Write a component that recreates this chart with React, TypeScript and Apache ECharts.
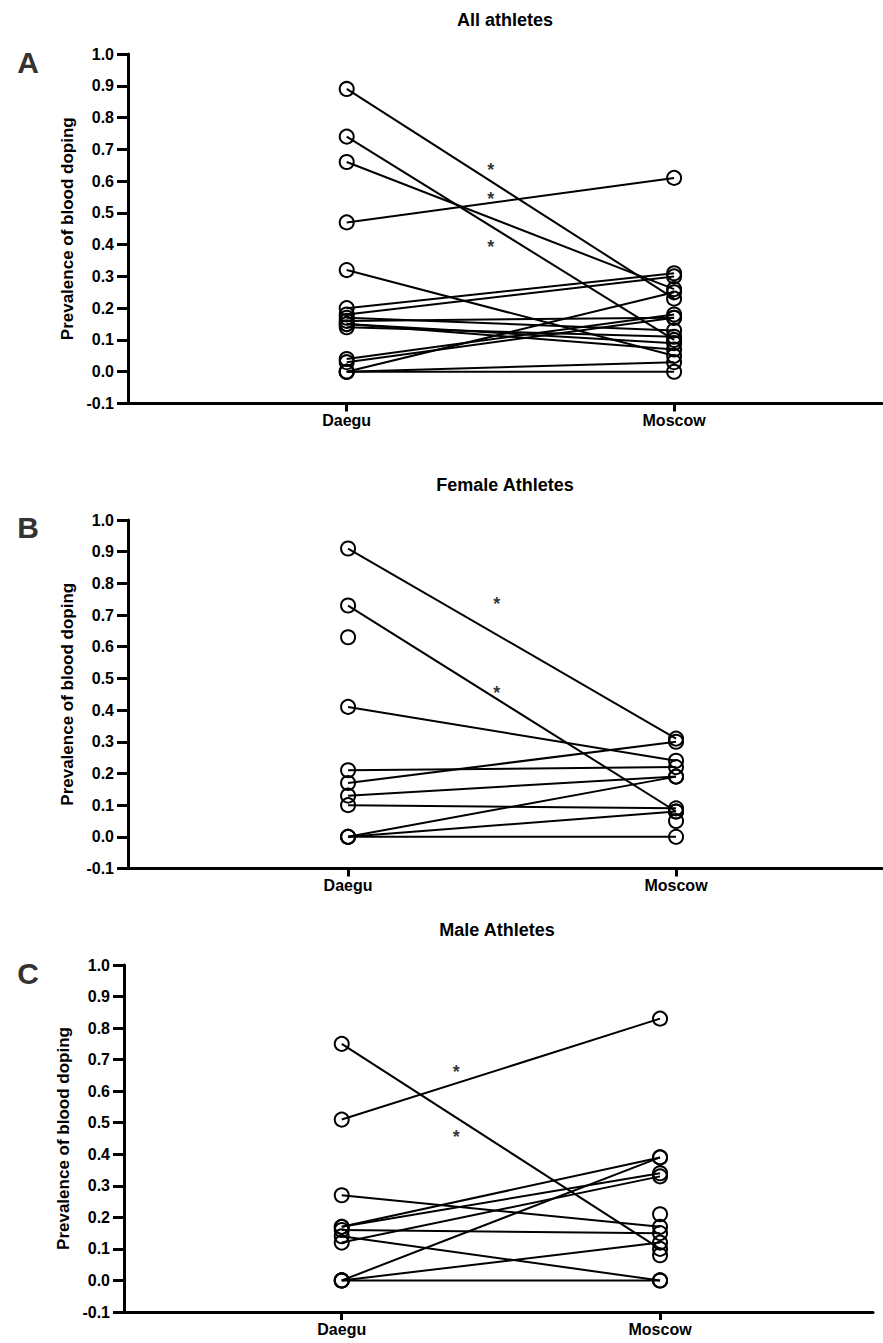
import React, { useEffect, useRef } from "react";
import * as echarts from "echarts";

const categories = ["Daegu", "Moscow"];

const allDaegu = [0.89, 0.74, 0.66, 0.47, 0.32, 0.2, 0.18, 0.17, 0.16, 0.15, 0.14, 0.15, 0.04, 0.03, 0.0, 0.0, 0.0];
const allMoscow = [0.23, 0.1, 0.26, 0.61, 0.05, 0.31, 0.3, 0.13, 0.17, 0.09, 0.11, 0.07, 0.18, 0.17, 0.25, 0.03, 0.0];

const femaleDaegu = [0.91, 0.73, 0.63, 0.41, 0.21, 0.17, 0.13, 0.1, 0.0, 0.0, 0.0, null];
const femaleMoscow = [0.31, 0.08, null, 0.24, 0.22, 0.3, 0.19, 0.09, 0.19, 0.08, 0.0, 0.05];

const maleDaegu = [0.75, 0.51, 0.27, 0.17, 0.17, 0.16, 0.12, 0.14, 0.0, 0.0, 0.0, null, null];
const maleMoscow = [0.1, 0.83, 0.17, 0.39, 0.34, 0.15, 0.33, 0.0, 0.39, 0.12, 0.0, 0.21, 0.08];

// significance markers: [position between Daegu(1) and Moscow(2), value]
const allStars = [[1.44, 0.647], [1.44, 0.556], [1.44, 0.405]];
const femaleStars = [[1.453, 0.747], [1.453, 0.465]];
const maleStars = [[1.36, 0.673], [1.36, 0.467]];

const titles = ["All athletes", "Female Athletes", "Male Athletes"];
const panelLetters = ["A", "B", "C"];
const yAxisName = "Prevalence of blood doping";

const FONT = "'Liberation Sans', Arial, sans-serif";

const panels = [
  { daegu: allDaegu, moscow: allMoscow, stars: allStars, left: 128, top: 54, height: 349.5, xmin: 0.332, xmax: 2.635, width: 754 },
  { daegu: femaleDaegu, moscow: femaleMoscow, stars: femaleStars, left: 128, top: 520, height: 348.5, xmin: 0.329, xmax: 2.628, width: 754 },
  { daegu: maleDaegu, moscow: maleMoscow, stars: maleStars, left: 124, top: 965, height: 347, xmin: 0.316, xmax: 2.669, width: 749 },
];

const titlePos = [
  { x: 505, y: 20 },
  { x: 505, y: 485 },
  { x: 497, y: 930 },
];
const letterPos = [
  { x: 28, y: 62 },
  { x: 28, y: 527 },
  { x: 28, y: 973 },
];

export default function App() {
  const ref = useRef<HTMLDivElement>(null);
  useEffect(() => {
    if (!ref.current) return;
    const chart = echarts.init(ref.current, null, { renderer: "svg" });
    const grid: any[] = [];
    const xAxis: any[] = [];
    const yAxis: any[] = [];
    const series: any[] = [];
    panels.forEach((p, i) => {
      grid.push({ left: p.left, top: p.top, width: p.width, height: p.height, containLabel: false });
      xAxis.push({
        type: "value",
        gridIndex: i,
        min: p.xmin,
        max: p.xmax,
        splitLine: { show: false },
        axisLine: { show: true, onZero: false, lineStyle: { color: "#000", width: 3 } },
        axisTick: { show: true, customValues: [1, 2], length: 8, lineStyle: { color: "#000", width: 3 } },
        axisLabel: {
          show: true,
          customValues: [1, 2],
          formatter: (v: number) => categories[Math.round(v) - 1] || "",
          color: "#000",
          fontWeight: "bold",
          fontSize: 16,
          fontFamily: FONT,
          margin: 9,
        },
      });
      yAxis.push({
        type: "value",
        gridIndex: i,
        min: -0.1,
        max: 1.0,
        interval: 0.1,
        name: yAxisName,
        nameLocation: "middle",
        nameGap: 52,
        nameRotate: 90,
        nameTextStyle: { color: "#000", fontWeight: "bold", fontSize: 17, fontFamily: FONT },
        splitLine: { show: false },
        axisLine: { show: true, onZero: false, lineStyle: { color: "#000", width: 3 } },
        axisTick: { show: true, length: 11, lineStyle: { color: "#000", width: 3 } },
        axisLabel: {
          formatter: (v: number) => v.toFixed(1),
          color: "#000",
          fontWeight: "bold",
          fontSize: 16,
          fontFamily: FONT,
          margin: 14,
        },
      });
      p.daegu.forEach((d, k) => {
        const m = p.moscow[k];
        const data: any[] = [];
        if (d !== null && d !== undefined) data.push([1, d]);
        if (m !== null && m !== undefined) data.push([2, m]);
        series.push({
          type: "line",
          xAxisIndex: i,
          yAxisIndex: i,
          data,
          symbol: "circle",
          symbolSize: 14,
          showAllSymbol: true,
          lineStyle: { color: "#000", width: 2 },
          itemStyle: { color: "rgba(0,0,0,0)", borderColor: "#000", borderWidth: 2 },
          emphasis: { disabled: true },
          z: 2,
        });
      });
      series.push({
        type: "scatter",
        xAxisIndex: i,
        yAxisIndex: i,
        data: p.stars,
        symbolSize: 1,
        itemStyle: { color: "rgba(0,0,0,0)" },
        label: {
          show: true,
          position: "inside",
          formatter: "*",
          color: "#000",
          fontSize: 18,
          fontWeight: "bold",
          fontFamily: FONT,
          offset: [0, 4],
        },
        emphasis: { disabled: true },
        z: 3,
      });
    });
    const graphic: any[] = [];
    titles.forEach((t, i) => {
      graphic.push({
        type: "text",
        x: titlePos[i].x,
        y: titlePos[i].y,
        style: {
          text: t,
          fill: "#000",
          font: `bold 18px ${FONT}`,
          align: "center",
          verticalAlign: "middle",
        },
      });
      graphic.push({
        type: "text",
        x: letterPos[i].x,
        y: letterPos[i].y,
        style: {
          text: panelLetters[i],
          fill: "#333",
          font: `bold 30px ${FONT}`,
          align: "center",
          verticalAlign: "middle",
        },
      });
    });
    chart.setOption({
      animation: false,
      backgroundColor: "#fff",
      grid,
      xAxis,
      yAxis,
      series,
      graphic,
    });
    return () => chart.dispose();
  }, []);
  return (
    <div
      ref={ref}
      style={{ position: "absolute", left: 0, top: 0, width: 883, height: 1343 }}
    />
  );
}
